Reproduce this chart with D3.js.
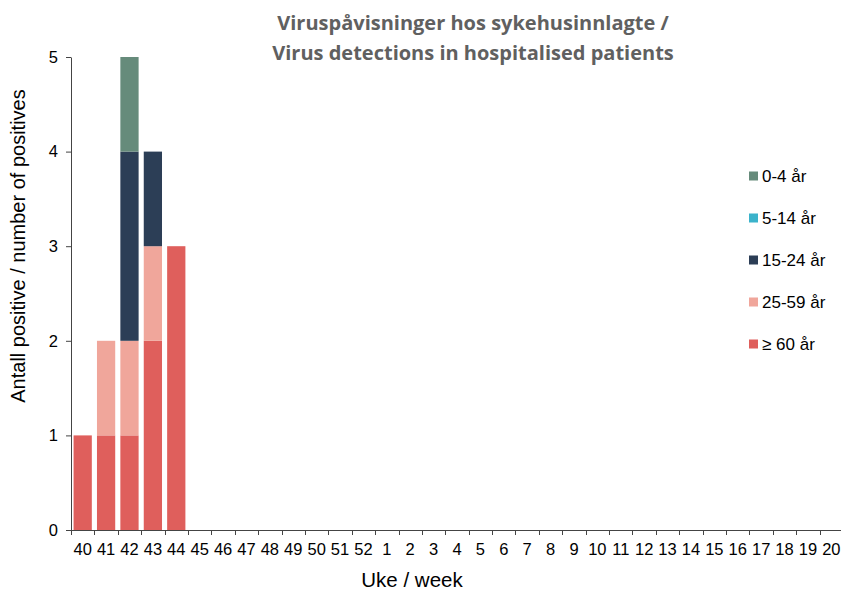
<!DOCTYPE html>
<html><head><meta charset="utf-8">
<script src="https://cdn.jsdelivr.net/npm/d3@7"></script>
<style>body{margin:0;background:#fff;} svg{display:block;}</style>
</head><body>
<svg id="c" width="841" height="590"></svg>
<script>
const weeks = ["40","41","42","43","44","45","46","47","48","49","50","51","52","1","2","3","4","5","6","7","8","9","10","11","12","13","14","15","16","17","18","19","20"];
const seriesNames = ["≥ 60 år","25-59 år","15-24 år","5-14 år","0-4 år"];
const seriesColors = ["#df5f5c","#f0a69b","#2c3e56","#3bb3cb","#668b7b"];
const v60 =   [1,1,1,2,3,0,0,0,0,0,0,0,0,0,0,0,0,0,0,0,0,0,0,0,0,0,0,0,0,0,0,0,0];
const v2559 = [0,1,1,1,0,0,0,0,0,0,0,0,0,0,0,0,0,0,0,0,0,0,0,0,0,0,0,0,0,0,0,0,0];
const v1524 = [0,0,2,1,0,0,0,0,0,0,0,0,0,0,0,0,0,0,0,0,0,0,0,0,0,0,0,0,0,0,0,0,0];
const v514 =  [0,0,0,0,0,0,0,0,0,0,0,0,0,0,0,0,0,0,0,0,0,0,0,0,0,0,0,0,0,0,0,0,0];
const v04 =   [0,0,1,0,0,0,0,0,0,0,0,0,0,0,0,0,0,0,0,0,0,0,0,0,0,0,0,0,0,0,0,0,0];
const yTicks = [0,1,2,3,4,5];
const titleLines = ["Viruspåvisninger hos sykehusinnlagte /","Virus detections in hospitalised patients"];
const yLabel = "Antall positive / number of positives";
const xLabel = "Uke / week";

const seriesVals = [v60,v2559,v1524,v514,v04];
const table = weeks.map((w,i)=>{const o={week:w}; seriesNames.forEach((s,j)=>o[s]=seriesVals[j][i]); return o;});
const stack = d3.stack().keys(seriesNames)(table);

const svg = d3.select("#c");
const x = d3.scaleBand().domain(weeks).range([71,843]).paddingInner(0.22).paddingOuter(0.11);
const y = d3.scaleLinear().domain([0,5]).range([530,57]);
const FONT = "Liberation Sans, Arial, sans-serif";

svg.append("g").selectAll("g").data(stack).join("g")
  .attr("fill",(d,i)=>seriesColors[i])
  .selectAll("rect").data(d=>d).join("rect")
  .attr("x",d=>x(d.data.week)).attr("width",x.bandwidth())
  .attr("y",d=>y(d[1])).attr("height",d=>y(d[0])-y(d[1]));

// y axis
const ya = svg.append("g").attr("transform","translate(71,0)")
  .call(d3.axisLeft(y).tickValues(yTicks).tickFormat(d3.format("d")).tickSize(5).tickSizeOuter(0).tickPadding(8));
ya.select(".domain").attr("stroke","#444");
ya.selectAll(".tick line").attr("stroke","#444");
ya.selectAll("text").attr("font-family",FONT).attr("font-size",16.5).attr("fill","#000");

// x axis
const xa = svg.append("g").attr("transform","translate(0,530)")
  .call(d3.axisBottom(x).tickSize(0).tickPadding(13));
xa.select(".domain").attr("stroke","#444").attr("d","M71,0.5H843");
xa.selectAll("text").attr("font-family",FONT).attr("font-size",16.5).attr("fill","#000").attr("dy","0.71em");
const step = x.step();
const bounds = d3.range(weeks.length+1).map(i=>71+i*step);
xa.selectAll(".bt").data(bounds).join("line").attr("class","bt")
  .attr("x1",d=>Math.round(d)+0.5).attr("x2",d=>Math.round(d)+0.5).attr("y1",0).attr("y2",5).attr("stroke","#444");

// title
svg.append("g").selectAll("text").data(titleLines).join("text")
  .attr("x",473).attr("y",(d,i)=>30+i*30).attr("text-anchor","middle")
  .attr("font-family","Open Sans, sans-serif").attr("font-weight","bold").attr("font-size",20)
  .attr("fill","#606060").text(d=>d);

svg.append("text").attr("transform","translate(25,246) rotate(-90)").attr("text-anchor","middle")
  .attr("font-family",FONT).attr("font-size",20).text(yLabel);
svg.append("text").attr("x",412).attr("y",587).attr("text-anchor","middle")
  .attr("font-family",FONT).attr("font-size",20.5).text(xLabel);

// legend
const legOrder = [4,3,2,1,0];
const lg = svg.append("g").selectAll("g").data(legOrder).join("g")
  .attr("transform",(d,i)=>`translate(749,${176+i*42})`);
lg.append("rect").attr("x",0).attr("y",-4.5).attr("width",9).attr("height",9).attr("fill",d=>seriesColors[d]);
lg.append("text").attr("x",13).attr("y",0).attr("dy","0.35em")
  .attr("font-family",FONT).attr("font-size",17).text(d=>seriesNames[d]);
</script>
</body></html>
